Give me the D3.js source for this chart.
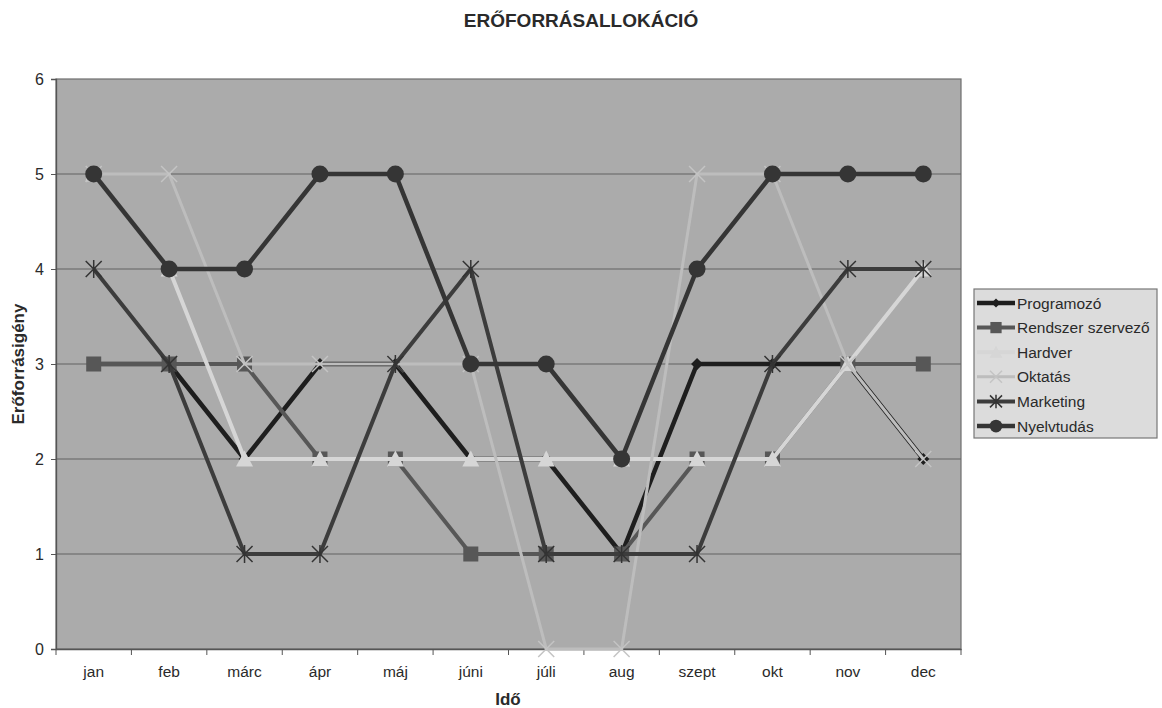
<!DOCTYPE html>
<html><head><meta charset="utf-8">
<script src="https://cdn.jsdelivr.net/npm/d3@7"></script>
<style>body{margin:0;background:#fff}svg{display:block;font-family:"Liberation Sans",Arial,sans-serif}</style>
</head><body>
<svg id="c" width="1162" height="708"></svg>
<script>
const months = ["jan","feb","márc","ápr","máj","júni","júli","aug","szept","okt","nov","dec"];
const yTicks = [0,1,2,3,4,5,6];
const programozo = [3,3,2,3,3,2,2,1,3,3,3,2];
const rendszer   = [3,3,3,2,2,1,1,1,2,2,3,3];
const hardver    = [5,4,2,2,2,2,2,2,2,2,3,4];
const oktatas    = [5,5,3,3,3,3,0,0,5,5,3,2];
const marketing  = [4,3,1,1,3,4,1,1,1,3,4,4];
const nyelv      = [5,4,4,5,5,3,3,2,4,5,5,5];
const seriesNames = ["Programozó","Rendszer szervező","Hardver","Oktatás","Marketing","Nyelvtudás"];
const seriesData = [programozo,rendszer,hardver,oktatas,marketing,nyelv];
const styles = [
  {color:"#1e1e1e", width:4.5, marker:"diamond", mcolor:"#1e1e1e"},
  {color:"#575757", width:4, marker:"square", mcolor:"#575757"},
  {color:"#d6d6d6", width:4, marker:"triangle", mcolor:"#d6d6d6"},
  {color:"#bdbdbd", width:3, marker:"x", mcolor:"#c4c4c4"},
  {color:"#3c3c3c", width:4, marker:"star", mcolor:"#333"},
  {color:"#353535", width:4.5, marker:"circle", mcolor:"#353535"}
];
const svg = d3.select("#c");
const L=56,R=961,T=79,B=649;
const x = d3.scaleBand().domain(months).range([L,R]);
const y = d3.scaleLinear().domain([0,6]).range([B,T]);

svg.append("text").attr("x",581).attr("y",27).attr("text-anchor","middle")
  .attr("font-weight","bold").attr("font-size",19).attr("fill","#2a2a2a").text("ERŐFORRÁSALLOKÁCIÓ");

svg.append("rect").attr("x",L).attr("y",T).attr("width",R-L).attr("height",B-T)
  .attr("fill","#ababab").attr("stroke","#6e6e6e").attr("stroke-width",1.2);

svg.append("g").selectAll("line").data(yTicks.slice(1,-1)).join("line")
  .attr("x1",L).attr("x2",R).attr("y1",d=>y(d)).attr("y2",d=>y(d))
  .attr("stroke","#636363").attr("stroke-width",1.2);

const ya = svg.append("g").attr("transform",`translate(${L},0)`)
  .call(d3.axisLeft(y).tickValues(yTicks).tickSize(5).tickPadding(7).tickFormat(d3.format("d")));
ya.select(".domain").attr("stroke","#555").attr("stroke-width",1.3);
ya.selectAll(".tick line").attr("stroke","#555");
ya.selectAll("text").attr("font-size",16).attr("fill","#2a2a2a").attr("font-family","Liberation Sans, Arial");

const xa = svg.append("g").attr("transform",`translate(0,${B})`)
  .call(d3.axisBottom(x).tickSize(0).tickPadding(17));
xa.select(".domain").attr("stroke","#555").attr("stroke-width",1.3);
xa.selectAll("text").attr("font-size",15.5).attr("fill","#2a2a2a").attr("font-family","Liberation Sans, Arial");
svg.append("g").selectAll("line").data(months).join("line")
  .attr("x1",d=>x(d)).attr("x2",d=>x(d)).attr("y1",B).attr("y2",B+6)
  .attr("stroke","#555").attr("stroke-width",1);
svg.append("line").attr("x1",R).attr("x2",R).attr("y1",B).attr("y2",B+6).attr("stroke","#555");

svg.append("text").attr("x",508).attr("y",705).attr("text-anchor","middle")
  .attr("font-weight","bold").attr("font-size",17).attr("fill","#2a2a2a").text("Idő");
svg.append("text").attr("transform","translate(24,364) rotate(-90)").attr("text-anchor","middle")
  .attr("font-weight","bold").attr("font-size",17).attr("fill","#2a2a2a").text("Erőforrásigény");

function drawMarker(g, type, cx, cy, col, scale){
  const s = scale||1;
  if(type==="diamond"){
    g.append("path").attr("d",`M${cx},${cy-6*s}L${cx+6*s},${cy}L${cx},${cy+6*s}L${cx-6*s},${cy}Z`).attr("fill",col);
  } else if(type==="square"){
    g.append("rect").attr("x",cx-7.5*s).attr("y",cy-7.5*s).attr("width",15*s).attr("height",15*s).attr("fill",col);
  } else if(type==="triangle"){
    g.append("path").attr("d",`M${cx},${cy-8.5*s}L${cx+8.5*s},${cy+7.5*s}L${cx-8.5*s},${cy+7.5*s}Z`).attr("fill",col);
  } else if(type==="x"){
    g.append("path").attr("d",`M${cx-8*s},${cy-8*s}L${cx+8*s},${cy+8*s}M${cx+8*s},${cy-8*s}L${cx-8*s},${cy+8*s}`)
      .attr("stroke",col).attr("stroke-width",1.5).attr("fill","none");
  } else if(type==="star"){
    g.append("path").attr("d",`M${cx-8*s},${cy-8*s}L${cx+8*s},${cy+8*s}M${cx+8*s},${cy-8*s}L${cx-8*s},${cy+8*s}M${cx},${cy-9*s}L${cx},${cy+9*s}`)
      .attr("stroke",col).attr("stroke-width",1.5).attr("fill","none");
  } else if(type==="circle"){
    g.append("circle").attr("cx",cx).attr("cy",cy).attr("r",8.5*s).attr("fill",col);
  }
}

const line = d3.line().x((d,i)=>x(months[i])+x.bandwidth()/2).y(d=>y(d));
const plot = svg.append("g");
seriesData.forEach((data,k)=>{
  plot.append("path").datum(data).attr("d",line).attr("fill","none")
    .attr("stroke",styles[k].color).attr("stroke-width",styles[k].width).attr("stroke-linejoin","round");
  const mg = plot.append("g");
  data.forEach((v,i)=>drawMarker(mg, styles[k].marker, x(months[i])+x.bandwidth()/2, y(v), styles[k].mcolor));
});

const lg = svg.append("g");
lg.append("rect").attr("x",974).attr("y",289).attr("width",183).attr("height",149)
  .attr("fill","#dcdcdc").attr("stroke","#777").attr("stroke-width",1.2);
seriesNames.forEach((n,k)=>{
  const yy = 303 + k*24.6;
  lg.append("line").attr("x1",977).attr("x2",1015).attr("y1",yy).attr("y2",yy)
    .attr("stroke",styles[k].color).attr("stroke-width",styles[k].width);
  drawMarker(lg, styles[k].marker, 996, yy, styles[k].mcolor, 0.75);
  lg.append("text").attr("x",1017).attr("y",yy+5.5).attr("font-size",15.5).attr("fill","#2a2a2a").text(n);
});
</script>
</body></html>
